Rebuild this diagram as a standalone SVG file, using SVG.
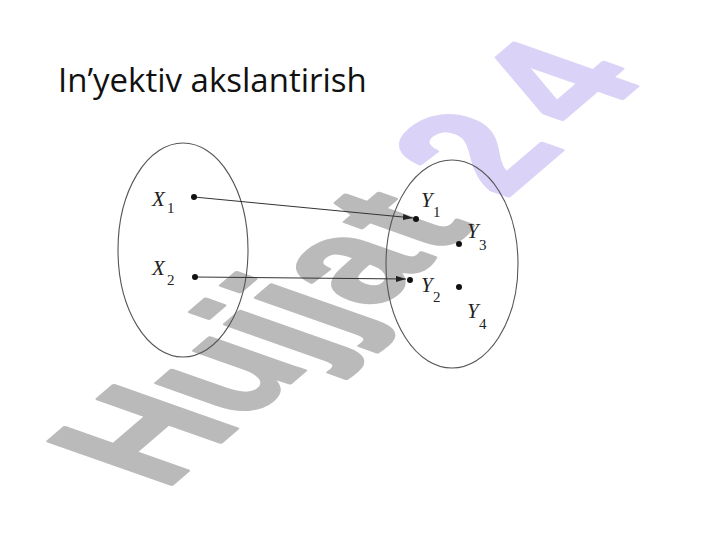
<svg xmlns="http://www.w3.org/2000/svg" width="720" height="540" viewBox="0 0 720 540">
<style>
.wm{font-family:"Liberation Sans",Arial,sans-serif;font-weight:bold;font-size:100px;stroke-width:2.5;stroke-linejoin:round}
.title{font-family:"Open Sans","Noto Sans",sans-serif;font-size:33px;fill:#111}
.lbl{font-family:"Liberation Serif","Times New Roman",serif;font-style:italic;font-size:21px;fill:#222}
.sub{font-family:"Liberation Serif","Times New Roman",serif;font-size:15px;fill:#222}
.set{fill:none;stroke:#555;stroke-width:1.1}
.dot{fill:#111}
.conn{stroke:#333;stroke-width:1;fill:none}
</style>
<defs>
<marker id="ah" viewBox="0 0 10 6" refX="10" refY="3" markerWidth="10" markerHeight="6" markerUnits="userSpaceOnUse" orient="auto">
<path d="M0,0 L10,3 L0,6 z" fill="#222"/>
</marker>
</defs>
<rect width="720" height="540" fill="#fff"/>
<g id="watermark">
<text class="wm" transform="matrix(1.11 -0.95 1.78 0.628 163.9 490.8)"><tspan fill="#bababa" stroke="#bababa" x="0 72.2 133.3 161.1 188.9 247">Hujjat</tspan><tspan fill="#dbd3f7" stroke="#dbd3f7" x="307 380">24</tspan></text>
</g>
<g id="title">
<text class="title" x="58" y="92">In’yektiv akslantirish</text>
</g>
<g id="setX">
<ellipse class="set" cx="183" cy="250" rx="65" ry="107"/>
</g>
<g id="setY">
<ellipse class="set" cx="452" cy="264" rx="66" ry="104"/>
</g>
<g id="connectors">
<line class="conn" x1="194" y1="197" x2="413" y2="218" marker-end="url(#ah)"/>
<line class="conn" x1="195" y1="277" x2="406" y2="279" marker-end="url(#ah)"/>
</g>
<g id="x1">
<circle class="dot" cx="194" cy="197" r="3"/>
<text class="lbl" x="152" y="206">X</text><text class="sub" x="167" y="213">1</text>
</g>
<g id="x2">
<circle class="dot" cx="195" cy="277" r="3"/>
<text class="lbl" x="152" y="275">X</text><text class="sub" x="167" y="285">2</text>
</g>
<g id="y1">
<circle class="dot" cx="416" cy="219" r="3"/>
<text class="lbl" x="421" y="207">Y</text><text class="sub" x="433" y="217">1</text>
</g>
<g id="y2">
<circle class="dot" cx="410" cy="280" r="3"/>
<text class="lbl" x="421" y="292">Y</text><text class="sub" x="433" y="302">2</text>
</g>
<g id="y3">
<circle class="dot" cx="459" cy="244" r="3"/>
<text class="lbl" x="467" y="238">Y</text><text class="sub" x="479" y="250">3</text>
</g>
<g id="y4">
<circle class="dot" cx="459" cy="287" r="3"/>
<text class="lbl" x="467" y="318">Y</text><text class="sub" x="479" y="329">4</text>
</g>
</svg>
